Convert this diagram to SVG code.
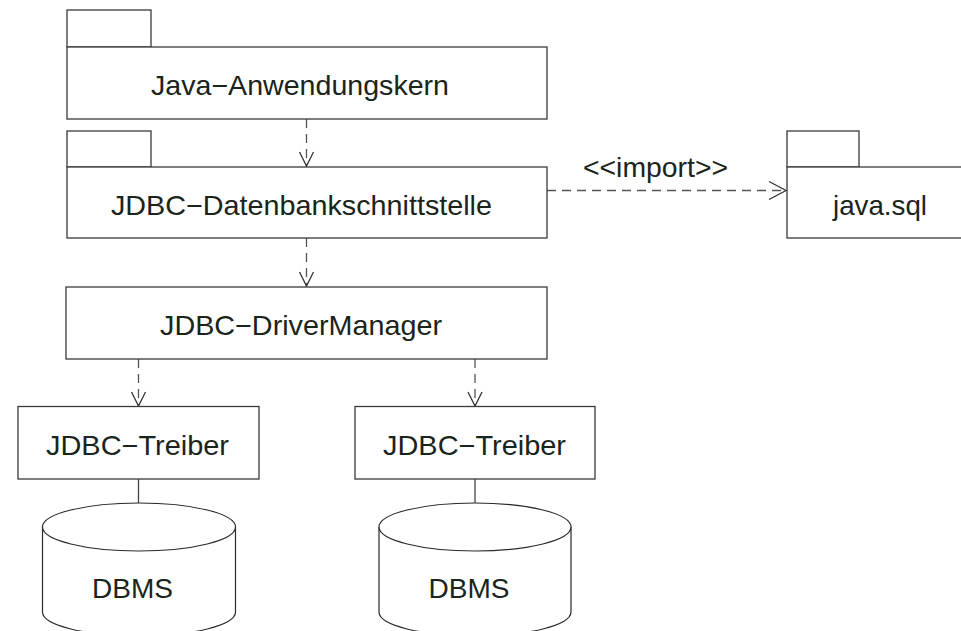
<svg xmlns="http://www.w3.org/2000/svg" width="961" height="631" viewBox="0 0 961 631">
<style>
  .box{fill:#fff;stroke:#3a3a3a;stroke-width:1.3}
  .cyl{fill:#fff;stroke:#2a2a2a;stroke-width:1.2}
  .lbl{font-family:"Liberation Sans",Arial,sans-serif;font-size:28px;fill:#1a241a}
  .dash{fill:none;stroke:#555;stroke-width:1.3;stroke-dasharray:9 6}
  .solid{fill:none;stroke:#444;stroke-width:1.3}
  .head{fill:none;stroke:#333;stroke-width:1.3}
</style>
<rect width="961" height="631" fill="#fff"/>
<g id="connectors">
  <line class="dash" x1="306.5" y1="119" x2="306.5" y2="166"/>
  <path class="head" d="M299.5,152 L306.5,166 L313.5,152"/>
  <line class="dash" x1="306.5" y1="238" x2="306.5" y2="286"/>
  <path class="head" d="M299.5,272 L306.5,286 L313.5,272"/>
  <line class="dash" x1="547" y1="190.5" x2="786" y2="190.5"/>
  <path class="head" d="M769,181.5 L786,190.5 L769,199.5"/>
  <text class="lbl" x="583" y="177" textLength="145" lengthAdjust="spacingAndGlyphs">&lt;&lt;import&gt;&gt;</text>
  <line class="dash" x1="138.5" y1="359" x2="138.5" y2="406"/>
  <path class="head" d="M131.5,392 L138.5,406 L145.5,392"/>
  <line class="dash" x1="475" y1="359" x2="475" y2="406"/>
  <path class="head" d="M468,392 L475,406 L482,392"/>
  <line class="solid" x1="138.5" y1="479" x2="138.5" y2="503"/>
  <line class="solid" x1="475" y1="479" x2="475" y2="503"/>
</g>
<g id="java-anwendungskern">
  <rect class="box" x="67" y="10" width="84" height="37"/>
  <rect class="box" x="67" y="47" width="480" height="72"/>
  <text class="lbl" x="151" y="95" textLength="298" lengthAdjust="spacingAndGlyphs">Java−Anwendungskern</text>
</g>
<g id="jdbc-datenbankschnittstelle">
  <rect class="box" x="67" y="131" width="84" height="36"/>
  <rect class="box" x="67" y="167" width="480" height="71"/>
  <text class="lbl" x="111" y="215" textLength="381" lengthAdjust="spacingAndGlyphs">JDBC−Datenbankschnittstelle</text>
</g>
<g id="java-sql">
  <rect class="box" x="787" y="131" width="72" height="36"/>
  <rect class="box" x="787" y="167" width="190" height="71"/>
  <text class="lbl" x="833" y="215" textLength="94" lengthAdjust="spacingAndGlyphs">java.sql</text>
</g>
<g id="jdbc-drivermanager">
  <rect class="box" x="66" y="287" width="481" height="72"/>
  <text class="lbl" x="160" y="335" textLength="282" lengthAdjust="spacingAndGlyphs">JDBC−DriverManager</text>
</g>
<g id="jdbc-treiber-1">
  <rect class="box" x="18" y="406.5" width="241" height="72.5"/>
  <text class="lbl" x="46" y="455" textLength="183" lengthAdjust="spacingAndGlyphs">JDBC−Treiber</text>
</g>
<g id="jdbc-treiber-2">
  <rect class="box" x="355" y="406.5" width="240" height="72.5"/>
  <text class="lbl" x="383" y="455" textLength="183" lengthAdjust="spacingAndGlyphs">JDBC−Treiber</text>
</g>
<g id="dbms-1">
  <path class="cyl" d="M42.5,527 L42.5,612 A96.5,24 0 0 0 235.5,612 L235.5,527"/>
  <ellipse class="cyl" cx="139" cy="527" rx="96.5" ry="24"/>
  <text class="lbl" x="92" y="598" textLength="81" lengthAdjust="spacingAndGlyphs">DBMS</text>
</g>
<g id="dbms-2">
  <path class="cyl" d="M379,527 L379,612 A96,24 0 0 0 571,612 L571,527"/>
  <ellipse class="cyl" cx="475" cy="527" rx="96" ry="24"/>
  <text class="lbl" x="428.5" y="598" textLength="81" lengthAdjust="spacingAndGlyphs">DBMS</text>
</g>
</svg>
